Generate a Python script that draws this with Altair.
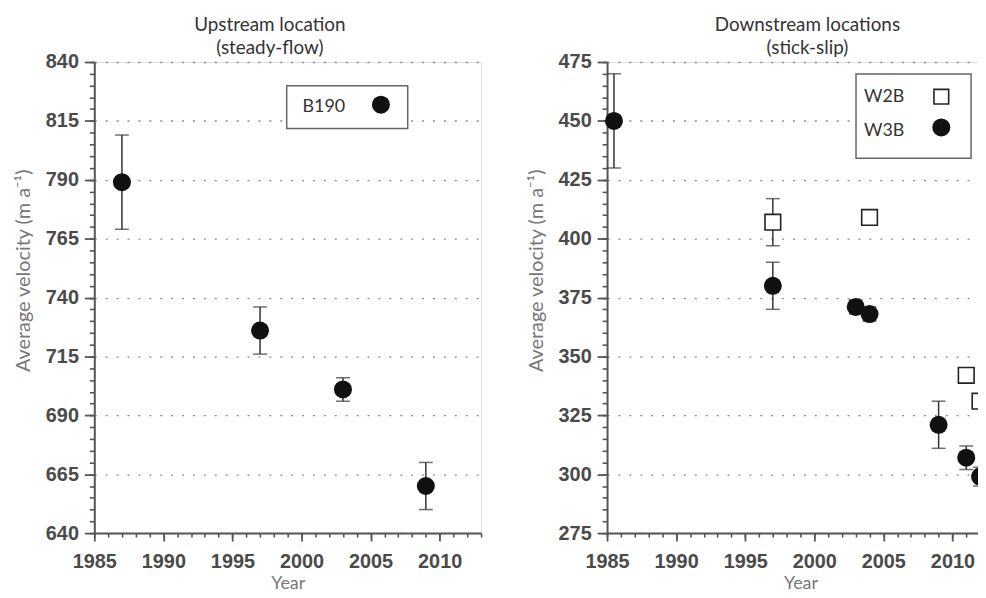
import altair as alt
import pandas as pd

# ---- data ----
years_b190 = [1987, 1997, 2003, 2009]
vel_b190 = [789, 726, 701, 660]
err_b190 = [20, 10, 5, 10]

years_w3b = [1985.5, 1997, 2003, 2004, 2009, 2011, 2012]
vel_w3b = [450, 380, 371, 368, 321, 307, 299]
err_w3b = [20, 10, 3, 3, 10, 5, 4]

years_w2b = [1997, 2004, 2011, 2012]
vel_w2b = [407, 409, 342, 331]
err_w2b = [10, 2, 2, 2]

left_series = ["B190"]
right_series = ["W2B", "W3B"]

left_title = ["Upstream location", "(steady-flow)"]
right_title = ["Downstream locations", "(stick-slip)"]
y_title = "Average velocity (m a\u207b\u00b9)"
x_title = "Year"

left_ydomain = [640, 840]
right_ydomain = [275, 475]
xdomain = [1985, 2013]


def frame(years, vel, err, series):
    return pd.DataFrame({
        "year": years, "vel": vel,
        "lo": [v - e for v, e in zip(vel, err)],
        "hi": [v + e for v, e in zip(vel, err)],
        "series": series,
    })


df_b190 = frame(years_b190, vel_b190, err_b190, "B190")
df_w3b = frame(years_w3b, vel_w3b, err_w3b, "W3B")
df_w2b = frame(years_w2b, vel_w2b, err_w2b, "W2B")

NUM_FONT = "Liberation Sans"
TXT_FONT = "Lato"
AX = "#555555"
LAB = "#4a4a4a"
W, H = 390, 475


def x_major():
    return alt.Axis(
        orient="bottom", values=list(range(xdomain[0], xdomain[1] + 1, 5)), tickCount=1000,
        format="d", labelOverlap=False, labelFlush=False,
        tickSize=8, tickColor=AX, tickWidth=1.8, domainColor=AX, domainWidth=2,
        labelFont=NUM_FONT, labelFontSize=20, labelFontWeight="bold", labelColor=LAB,
        labelPadding=11, grid=False,
        title=x_title, titleFont=TXT_FONT, titleFontSize=18, titleFontWeight="normal",
        titleColor="#777777", titlePadding=3,
    )


def x_minor():
    return alt.Axis(
        orient="bottom", values=list(range(xdomain[0], xdomain[1] + 1)), tickCount=1000,
        tickSize=4, tickColor=AX, tickWidth=1.6, domain=False, labels=False, grid=False, title=None,
    )


def y_major(d0, d1):
    return alt.Axis(
        orient="left", values=list(range(d0, d1 + 1, 25)), tickCount=1000,
        format="d", labelOverlap=False, labelFlush=False,
        tickSize=10, tickColor=AX, tickWidth=1.8, domainColor=AX, domainWidth=2,
        labelFont=NUM_FONT, labelFontSize=20, labelFontWeight="bold", labelColor=LAB,
        labelPadding=6,
        grid=True, gridColor="#888888", gridDash=[2, 9], gridWidth=1.3,
        title=y_title, titleFont=TXT_FONT, titleFontSize=20, titleFontWeight="normal",
        titleColor="#777777", titlePadding=12, titleY=210,
    )


def y_minor(d0, d1):
    return alt.Axis(
        orient="left", values=list(range(d0, d1 + 1, 5)), tickCount=1000,
        tickSize=5, tickColor=AX, tickWidth=1.6, domain=False, labels=False, grid=False, title=None,
    )


def enc(xs, ys, xf="year:Q", yf="vel:Q"):
    return dict(x=alt.X(xf, scale=xs, axis=None), y=alt.Y(yf, scale=ys, axis=None))


def errorbars(df, xs, ys):
    rule = alt.Chart(df).mark_rule(color="#333333", strokeWidth=1.5).encode(
        y2="hi:Q", **enc(xs, ys, yf="lo:Q"))
    cap_lo = alt.Chart(df).mark_tick(orient="horizontal", size=14, thickness=1.5, color="#333333").encode(
        **enc(xs, ys, yf="lo:Q"))
    cap_hi = alt.Chart(df).mark_tick(orient="horizontal", size=14, thickness=1.5, color="#333333").encode(
        **enc(xs, ys, yf="hi:Q"))
    return [rule, cap_lo, cap_hi]


def circles(df, xs, ys):
    return alt.Chart(df).mark_point(shape="circle", filled=True, color="#111111", size=330, opacity=1).encode(
        **enc(xs, ys))


def squares(df, xs, ys):
    return alt.Chart(df).mark_point(shape="square", filled=True, color="white", stroke="#222222",
                                    strokeWidth=1.6, size=250, opacity=1).encode(**enc(xs, ys))


def legend_box(x0, x1, y0, y1):
    return alt.Chart(alt.Data(values=[{"k": 1}])).mark_rect(
        fill="white", stroke="#666666", strokeWidth=1.5).encode(
        x=alt.value(x0), x2=alt.value(x1), y=alt.value(y0), y2=alt.value(y1))


def legend_text(name, x, y):
    return alt.Chart(pd.DataFrame({"name": [name]})).mark_text(
        font=TXT_FONT, fontSize=18, color="#333333", align="left", baseline="middle").encode(
        x=alt.value(x), y=alt.value(y), text="name:N")


def legend_symbol(name, x, y, shape):
    if shape == "circle":
        m = alt.Chart(pd.DataFrame({"name": [name]})).mark_point(
            shape="circle", filled=True, color="#111111", size=330, opacity=1)
    else:
        m = alt.Chart(pd.DataFrame({"name": [name]})).mark_point(
            shape="square", filled=True, color="white", stroke="#222222", strokeWidth=1.6, size=220, opacity=1)
    return m.encode(x=alt.value(x), y=alt.value(y))


def axis_layers(df, xs, ys, d0, d1):
    major = alt.Chart(df).mark_point(opacity=0).encode(
        x=alt.X("year:Q", scale=xs, axis=x_major()),
        y=alt.Y("vel:Q", scale=ys, axis=y_major(d0, d1)))
    minor = alt.Chart(df).mark_point(opacity=0).encode(
        x=alt.X("year:Q", scale=xs, axis=x_minor()),
        y=alt.Y("vel:Q", scale=ys, axis=y_minor(d0, d1)))
    return [minor, major]


def title(lines, dx):
    return alt.Title(lines, frame="group", dx=dx, fontSize=19, font=TXT_FONT,
                     fontWeight="normal", color="#333333", lineHeight=23, offset=-6)


# ---- left panel ----
xs_l = alt.Scale(domain=xdomain, nice=False, zero=False)
ys_l = alt.Scale(domain=left_ydomain, nice=False, zero=False)

left = alt.layer(
    *axis_layers(df_b190, xs_l, ys_l, *left_ydomain),
    *errorbars(df_b190, xs_l, ys_l),
    circles(df_b190, xs_l, ys_l),
    legend_box(194, 316, 24, 67),
    legend_text(left_series[0], 210, 45),
    legend_symbol(left_series[0], 289, 43, "circle"),
).resolve_axis(x="independent", y="independent").properties(
    width=W, height=H, title=title(left_title, -18))

# ---- right panel ----
xs_r = alt.Scale(domain=xdomain, nice=False, zero=False)
ys_r = alt.Scale(domain=right_ydomain, nice=False, zero=False)

right = alt.layer(
    *axis_layers(df_w3b, xs_r, ys_r, *right_ydomain),
    *errorbars(df_w3b, xs_r, ys_r),
    *errorbars(df_w2b, xs_r, ys_r),
    circles(df_w3b, xs_r, ys_r),
    squares(df_w2b, xs_r, ys_r),
    legend_box(251, 367, 12, 97),
    legend_text(right_series[0], 259, 35),
    legend_symbol(right_series[0], 337, 35, "square"),
    legend_text(right_series[1], 259, 70),
    legend_symbol(right_series[1], 337, 66, "circle"),
).resolve_axis(x="independent", y="independent").properties(
    width=W, height=H, title=title(right_title, 7))

chart = alt.hconcat(left, right, spacing=43).properties(
    padding={"left": 5, "top": 5, "bottom": 5, "right": -18}
).configure_view(stroke=None).configure(background="white")

chart.save("out.html", embed_options={"renderer": "svg", "actions": False})
